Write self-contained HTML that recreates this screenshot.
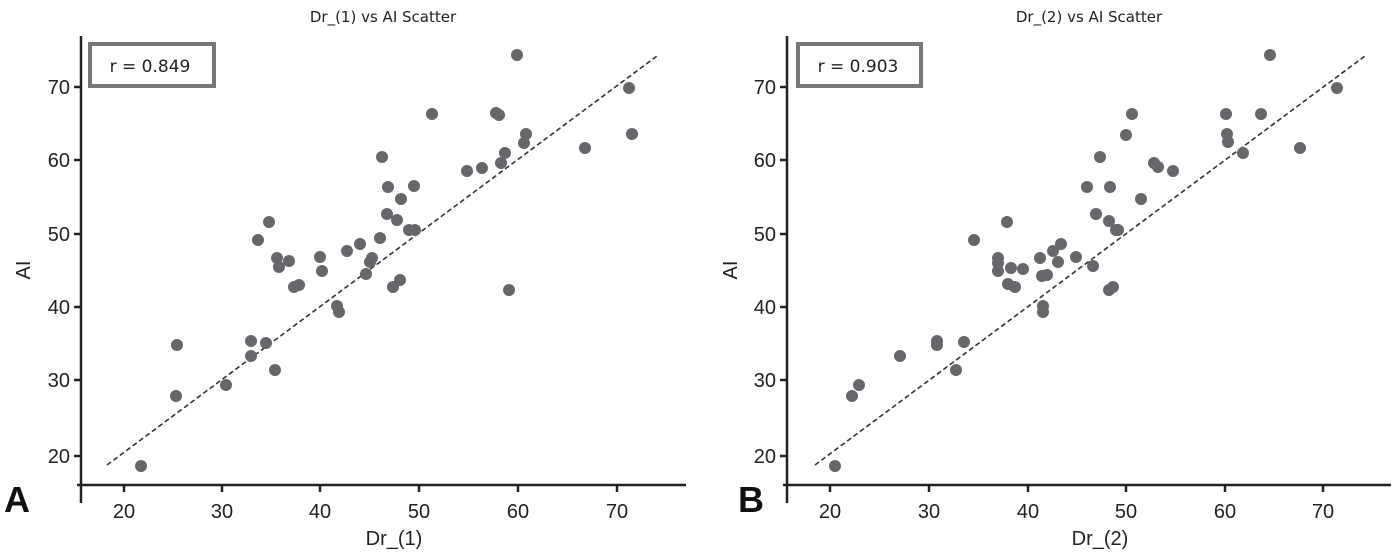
<!DOCTYPE html>
<html><head><meta charset="utf-8"><style>
body{margin:0;background:#fff;}
svg{display:block;}
.t{font-family:"DejaVu Sans",sans-serif;font-size:15px;fill:#222;}
.k{font-family:"Liberation Sans",sans-serif;font-size:20px;fill:#222;}
</style></head><body>
<svg width="1395" height="554" viewBox="0 0 1395 554" xmlns="http://www.w3.org/2000/svg">
<g stroke="#222" stroke-width="2.5" fill="none">
<path d="M81 36V503M77 485H686"/>
<path d="M787 36V503M783 485H1391"/>
<path d="M124 485v7M222 485v7M320 485v7M419 485v7M518 485v7M617 485v7"/>
<path d="M74 87h7M74 160h7M74 234h7M74 307h7M74 380h7M74 456h7"/>
<path d="M830 485v7M929 485v7M1028 485v7M1126 485v7M1225 485v7M1323 485v7"/>
<path d="M780 87h7M780 160h7M780 234h7M780 307h7M780 380h7M780 456h7"/>
</g>
<g class="k" text-anchor="middle">
<text x="124" y="518">20</text><text x="222" y="518">30</text><text x="320" y="518">40</text><text x="419" y="518">50</text><text x="518" y="518">60</text><text x="617" y="518">70</text>
<text x="830" y="518">20</text><text x="929" y="518">30</text><text x="1028" y="518">40</text><text x="1126" y="518">50</text><text x="1225" y="518">60</text><text x="1323" y="518">70</text>
<text x="394" y="545">Dr_(1)</text><text x="1100" y="545">Dr_(2)</text>
</g>
<g class="k" text-anchor="end">
<text x="70" y="94">70</text><text x="70" y="167">60</text><text x="70" y="241">50</text><text x="70" y="314">40</text><text x="70" y="387">30</text><text x="70" y="463">20</text>
<text x="776" y="94">70</text><text x="776" y="167">60</text><text x="776" y="241">50</text><text x="776" y="314">40</text><text x="776" y="387">30</text><text x="776" y="463">20</text>
</g>
<text class="k" transform="translate(30 270) rotate(-90)" text-anchor="middle">AI</text>
<text class="k" transform="translate(737 270) rotate(-90)" text-anchor="middle">AI</text>
<text class="t" x="383" y="22" text-anchor="middle">Dr_(1) vs AI Scatter</text>
<text class="t" x="1089" y="22" text-anchor="middle">Dr_(2) vs AI Scatter</text>
<rect x="90" y="44" width="124" height="42" fill="#fff" stroke="#777" stroke-width="4"/>
<rect x="798" y="44" width="123" height="42" fill="#fff" stroke="#777" stroke-width="4"/>
<text class="t" x="150" y="72" text-anchor="middle" style="font-size:17px">r = 0.849</text>
<text class="t" x="858" y="72" text-anchor="middle" style="font-size:17px">r = 0.903</text>
<text x="4" y="512" style="font-family:'Liberation Sans',sans-serif;font-weight:bold;font-size:36px" fill="#111">A</text>
<text x="738" y="512" style="font-family:'Liberation Sans',sans-serif;font-weight:bold;font-size:36px" fill="#111">B</text>
<path d="M107 465L657 56M815 465L1365 56" stroke="#333" stroke-width="1.6" stroke-dasharray="5,3"/>
<g fill="#67676b">
<circle cx="141" cy="466" r="6"/><circle cx="176" cy="396" r="6"/><circle cx="177" cy="345" r="6"/><circle cx="226" cy="385" r="6"/><circle cx="251" cy="341" r="6"/><circle cx="251" cy="356" r="6"/><circle cx="266" cy="343" r="6"/><circle cx="275" cy="370" r="6"/><circle cx="258" cy="240" r="6"/><circle cx="269" cy="222" r="6"/><circle cx="277" cy="258" r="6"/><circle cx="279" cy="267" r="6"/><circle cx="289" cy="261" r="6"/><circle cx="294" cy="287" r="6"/><circle cx="299" cy="285" r="6"/><circle cx="320" cy="257" r="6"/><circle cx="322" cy="271" r="6"/><circle cx="337" cy="306" r="6"/><circle cx="339" cy="312" r="6"/><circle cx="347" cy="251" r="6"/><circle cx="360" cy="244" r="6"/><circle cx="366" cy="274" r="6"/><circle cx="370" cy="262" r="6"/><circle cx="372" cy="258" r="6"/><circle cx="380" cy="238" r="6"/><circle cx="382" cy="157" r="6"/><circle cx="388" cy="187" r="6"/><circle cx="387" cy="214" r="6"/><circle cx="393" cy="287" r="6"/><circle cx="397" cy="220" r="6"/><circle cx="400" cy="280" r="6"/><circle cx="401" cy="199" r="6"/><circle cx="409" cy="230" r="6"/><circle cx="414" cy="186" r="6"/><circle cx="415" cy="230" r="6"/><circle cx="432" cy="114" r="6"/><circle cx="467" cy="171" r="6"/><circle cx="482" cy="168" r="6"/><circle cx="496" cy="113" r="6"/><circle cx="499" cy="115" r="6"/><circle cx="501" cy="163" r="6"/><circle cx="505" cy="153" r="6"/><circle cx="509" cy="290" r="6"/><circle cx="517" cy="55" r="6"/><circle cx="524" cy="143" r="6"/><circle cx="526" cy="134" r="6"/><circle cx="585" cy="148" r="6"/><circle cx="629" cy="88" r="6"/><circle cx="632" cy="134" r="6"/>
<circle cx="835" cy="466" r="6"/><circle cx="852" cy="396" r="6"/><circle cx="859" cy="385" r="6"/><circle cx="900" cy="356" r="6"/><circle cx="937" cy="341" r="6"/><circle cx="937" cy="345" r="6"/><circle cx="956" cy="370" r="6"/><circle cx="964" cy="342" r="6"/><circle cx="974" cy="240" r="6"/><circle cx="998" cy="258" r="6"/><circle cx="998" cy="263" r="6"/><circle cx="998" cy="271" r="6"/><circle cx="1007" cy="222" r="6"/><circle cx="1008" cy="284" r="6"/><circle cx="1011" cy="268" r="6"/><circle cx="1015" cy="287" r="6"/><circle cx="1023" cy="269" r="6"/><circle cx="1040" cy="258" r="6"/><circle cx="1042" cy="276" r="6"/><circle cx="1043" cy="312" r="6"/><circle cx="1043" cy="306" r="6"/><circle cx="1047" cy="275" r="6"/><circle cx="1053" cy="251" r="6"/><circle cx="1058" cy="262" r="6"/><circle cx="1061" cy="244" r="6"/><circle cx="1076" cy="257" r="6"/><circle cx="1087" cy="187" r="6"/><circle cx="1093" cy="266" r="6"/><circle cx="1096" cy="214" r="6"/><circle cx="1100" cy="157" r="6"/><circle cx="1109" cy="290" r="6"/><circle cx="1110" cy="187" r="6"/><circle cx="1109" cy="221" r="6"/><circle cx="1113" cy="287" r="6"/><circle cx="1116" cy="230" r="6"/><circle cx="1118" cy="230" r="6"/><circle cx="1126" cy="135" r="6"/><circle cx="1132" cy="114" r="6"/><circle cx="1141" cy="199" r="6"/><circle cx="1154" cy="163" r="6"/><circle cx="1158" cy="167" r="6"/><circle cx="1173" cy="171" r="6"/><circle cx="1226" cy="114" r="6"/><circle cx="1227" cy="134" r="6"/><circle cx="1228" cy="142" r="6"/><circle cx="1243" cy="153" r="6"/><circle cx="1261" cy="114" r="6"/><circle cx="1270" cy="55" r="6"/><circle cx="1300" cy="148" r="6"/><circle cx="1337" cy="88" r="6"/>
</g>
</svg>
</body></html>
